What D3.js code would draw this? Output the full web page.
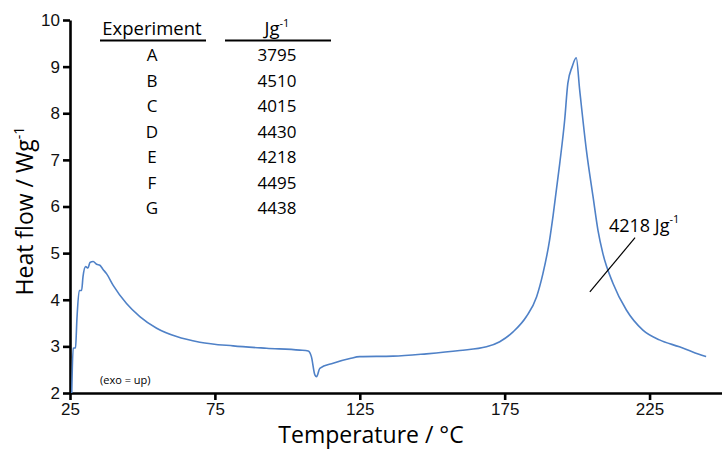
<!DOCTYPE html>
<html>
<head>
<meta charset="utf-8">
<script src="https://cdn.jsdelivr.net/npm/d3@7"></script>
<style>
  body { margin: 0; background: #fff; }
  svg { font-family: "Open Sans", "Noto Sans", sans-serif; }
  .axis path, .axis line { stroke: #000; stroke-width: 2.6; }
  .axis text { font-size: 17px; fill: #111; }
</style>
</head>
<body>
<svg width="722" height="451"></svg>
<script>
// DATA
var temperature = [25.6, 26.1, 26.9, 27.4, 28.2, 29.0, 29.5, 30.4, 31.2, 31.9, 33.0, 34.2, 35.3, 36.4,
  37.6, 39.9, 44.5, 49.1, 54.9, 61.8, 69.8, 81.3, 92.8, 104.3, 107.2, 108.3, 109.5, 110.1,
  111.2, 115.8, 121.6, 125, 136.5, 148, 159.5, 168.7, 173.3, 177.9, 182.5, 186, 188.2,
  190.5, 191.7, 194, 195.7, 196.8, 198.3, 199.7, 200.9, 203.2, 205.5, 207.2, 208.9,
  212.4, 217, 222.7, 228.4, 235.3, 239.9, 244.5];
var heatFlow = [2.0, 2.96, 2.97, 3.6, 4.2, 4.2, 4.5, 4.71, 4.68, 4.8, 4.82, 4.76, 4.74, 4.65,
  4.56, 4.31, 3.92, 3.64, 3.39, 3.21, 3.09, 3.01, 2.96, 2.92, 2.90, 2.78, 2.39, 2.35,
  2.53, 2.64, 2.74, 2.78, 2.79, 2.84, 2.91, 2.99, 3.10, 3.31, 3.64, 4.06, 4.56,
  5.28, 5.8, 6.92, 7.85, 8.64, 9.0, 9.19, 8.49, 7.21, 6.21, 5.49, 4.99,
  4.35, 3.78, 3.35, 3.14, 2.99, 2.88, 2.78];
var experiments = ["A", "B", "C", "D", "E", "F", "G"];
var enthalpies = ["3795", "4510", "4015", "4430", "4218", "4495", "4438"];
var xTicks = [25, 75, 125, 175, 225];
var yTicks = [2, 3, 4, 5, 6, 7, 8, 9, 10];

// SETUP
var svg = d3.select("svg"),
  margin = { top: 20, right: 0, bottom: 58, left: 70 },
  width = 722 - margin.left - margin.right,
  height = 451 - margin.top - margin.bottom;

var x = d3.scaleLinear().domain([25, 250]).range([0, width]),
  y = d3.scaleLinear().domain([2, 10]).range([height, 0]);

var g = svg.append("g")
  .attr("transform", "translate(" + margin.left + "," + margin.top + ")");

g.append("g")
  .attr("class", "axis axis--x")
  .attr("transform", "translate(0," + height + ")")
  .call(d3.axisBottom(x).tickValues(xTicks).tickSize(7).tickSizeOuter(0).tickPadding(3));

g.append("g")
  .attr("class", "axis axis--y")
  .call(d3.axisLeft(y).tickValues(yTicks).tickSize(7).tickSizeOuter(0).tickPadding(3));

// axis titles
g.append("text")
  .attr("x", 301)
  .attr("y", height + 50)
  .attr("text-anchor", "middle")
  .style("font-size", "23px")
  .text("Temperature / °C");

var yt = g.append("text")
  .attr("transform", "translate(-37," + y(5.9) + ") rotate(-90)")
  .attr("text-anchor", "middle")
  .style("font-size", "23px");
yt.append("tspan").text("Heat flow / Wg");
yt.append("tspan").attr("dy", -9).style("font-size", "14px").text("-1");

// curve
var pts = temperature.map(function (t, i) { return [t, heatFlow[i]]; });
var line = d3.line()
  .x(function (d) { return x(d[0]); })
  .y(function (d) { return y(d[1]); })
  .curve(d3.curveMonotoneX);

g.append("path")
  .datum(pts)
  .attr("fill", "none")
  .attr("stroke", "#4f81c7")
  .attr("stroke-width", 1.6)
  .attr("d", line);

// note
g.append("text")
  .attr("x", 30)
  .attr("y", 364)
  .style("font-size", "11px")
  .text("(exo = up)");

// annotation
g.append("line")
  .attr("x1", x(204.4)).attr("y1", y(4.17))
  .attr("x2", x(220)).attr("y2", y(5.33))
  .attr("stroke", "#000").attr("stroke-width", 1.2);

var ann = g.append("text")
  .attr("x", x(211))
  .attr("y", y(5.45))
  .style("font-size", "18px");
ann.append("tspan").text("4218 Jg");
ann.append("tspan").attr("dy", -9).style("font-size", "11px").text("-1");

// table
var col1 = 82, col2 = 207, row0 = 35, rowStep = 25.5;
g.append("text")
  .attr("x", col1).attr("y", 15)
  .attr("text-anchor", "middle")
  .style("font-size", "18.5px")
  .text("Experiment");
var jh = g.append("text")
  .attr("x", col2).attr("y", 15)
  .attr("text-anchor", "middle")
  .style("font-size", "18.5px");
jh.append("tspan").text("Jg");
jh.append("tspan").attr("dy", -8).style("font-size", "11px").text("-1");

g.append("line").attr("x1", 30).attr("x2", 136).attr("y1", 20.5).attr("y2", 20.5)
  .attr("stroke", "#000").attr("stroke-width", 2);
g.append("line").attr("x1", 155).attr("x2", 261).attr("y1", 20.5).attr("y2", 20.5)
  .attr("stroke", "#000").attr("stroke-width", 2);

g.selectAll(".exp")
  .data(experiments)
  .enter().append("text")
  .attr("class", "exp")
  .attr("x", col1)
  .attr("y", function (d, i) { return row0 + 6 + i * rowStep; })
  .attr("text-anchor", "middle")
  .style("font-size", "17px")
  .text(function (d) { return d; });

g.selectAll(".enth")
  .data(enthalpies)
  .enter().append("text")
  .attr("class", "enth")
  .attr("x", col2)
  .attr("y", function (d, i) { return row0 + 6 + i * rowStep; })
  .attr("text-anchor", "middle")
  .style("font-size", "17px")
  .text(function (d) { return d; });
</script>
</body>
</html>
